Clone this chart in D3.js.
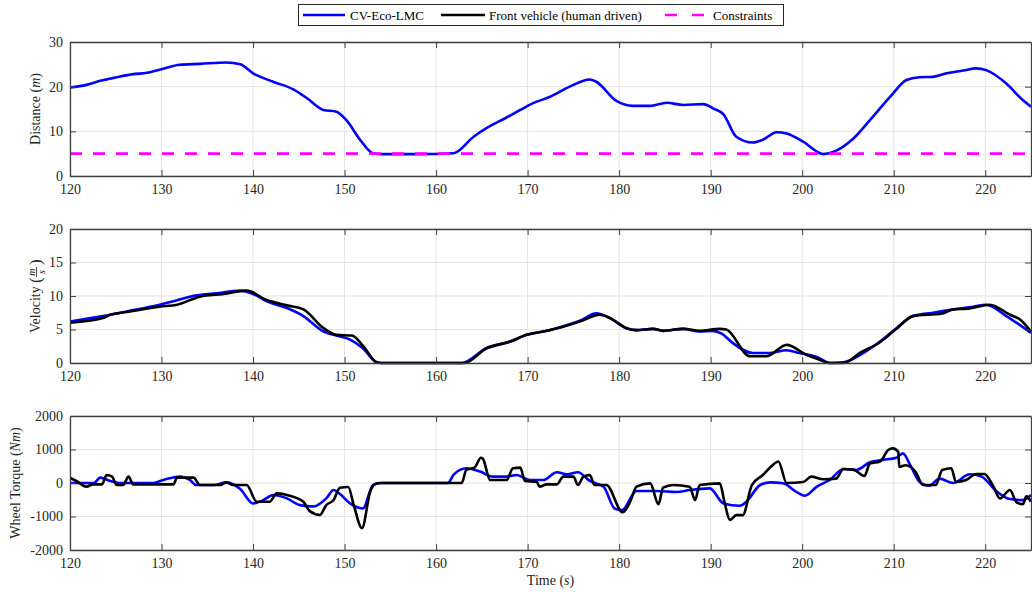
<!DOCTYPE html>
<html>
<head>
<meta charset="utf-8">
<script src="https://cdn.jsdelivr.net/npm/d3@7"></script>
<style>
    body { margin: 0; background: #fff; }
    svg { display: block; font-family: "Liberation Serif", "DejaVu Serif", serif; }
</style>
</head>
<body>
<div id="chart"></div>
<script>
"use strict";

const WIDTH = 1032;
const HEIGHT = 592;
const LEFT = 70;
const RIGHT = 1031;

const timeTicks = [120, 130, 140, 150, 160, 170, 180, 190, 200, 210, 220];
const distanceTicks = [0, 10, 20, 30];
const velocityTicks = [0, 5, 10, 15, 20];
const torqueTicks = [-2000, -1000, 0, 1000, 2000];

const legendLabels = ["CV-Eco-LMC", "Front vehicle (human driven)", "Constraints"];
const constraintDistance = 5;

// distance of the CV-Eco-LMC vehicle [t, m]
const distanceEco = [
    [120, 19.8], [121.8, 20.4], [123.3, 21.3], [125.1, 22.1], [126.9, 22.8], [128.4, 23.1],
    [130, 23.9], [132, 24.9], [134.2, 25.1], [137.1, 25.4], [138.6, 25.0], [140, 23.0],
    [142.2, 21.1], [144.4, 19.4], [145.9, 17.4], [147.7, 14.8], [149.1, 14.4], [150.2, 12.5],
    [151.7, 8.1], [153.1, 5.1], [154, 4.9], [158, 4.9], [161.9, 5.1], [164.1, 8.8],
    [165.5, 10.7], [167.7, 13.1], [169.2, 14.8], [170.6, 16.3], [172.4, 17.7], [174.6, 20.0],
    [176.8, 21.6], [177.5, 21.1], [179.7, 16.8], [181.5, 15.7], [183.4, 15.7], [185.2, 16.4],
    [187.0, 15.9], [189.2, 16.1], [190.3, 15.1], [191.4, 13.8], [192.8, 8.8], [194.6, 7.5],
    [195.7, 8.1], [197.2, 9.8], [198.3, 9.5], [200.1, 7.7], [202.3, 4.9], [203.4, 5.4],
    [205.6, 8.4], [207.4, 12.5], [209.6, 17.7], [211.4, 21.5], [212.8, 22.1], [214.3, 22.2],
    [215.8, 23.0], [217.6, 23.6], [219.0, 24.1], [220.1, 23.7], [222.3, 20.7], [224.1, 17.0],
    [225, 15.5]
];

// velocity [t, m/s]
const velocityEco = [
    [120, 6.2], [123.6, 7.0], [126.2, 7.7], [129.8, 8.7], [131.3, 9.2], [133.1, 9.9],
    [136, 10.4], [138.6, 10.8], [140, 10.3], [141.5, 9.2], [143.7, 8.2], [145.5, 7.0],
    [147.7, 4.7], [149.1, 4.1], [150.6, 3.5], [152.0, 2.2], [153.5, 0.1], [154, 0],
    [162.8, 0], [165.5, 2.2], [168.1, 3.2], [169.9, 4.2], [172.1, 4.8], [173.9, 5.5],
    [175.7, 6.3], [177.5, 7.4], [179.0, 6.7], [180.8, 5.2], [181.9, 4.9], [183.7, 5.1],
    [184.8, 4.8], [187, 5.1], [188.8, 4.7], [190.2, 4.8], [191.2, 4.4], [192.4, 3.0],
    [194.6, 1.5], [196.5, 1.5], [198.3, 1.9], [199.7, 1.5], [201.6, 0.9], [203.0, 0],
    [204.5, 0.1], [206.7, 1.5], [208.5, 3.2], [210.3, 5.2], [212.1, 7.0], [214.3, 7.5],
    [216.5, 8.0], [218.7, 8.4], [220.1, 8.7], [222.3, 7.0], [225, 4.5]
];

const velocityFront = [
    [120, 6.0], [123.6, 6.7], [124.4, 7.2], [126.2, 7.6], [129.8, 8.4], [131.7, 8.7],
    [134.2, 9.9], [136.8, 10.3], [139.3, 10.8], [141.5, 9.4], [143.7, 8.6], [145.5, 8.0],
    [147.7, 5.2], [149.1, 4.2], [150.8, 4.1], [152.0, 2.6], [153.4, 0.2], [154, 0],
    [163.1, 0], [165.5, 2.2], [168.1, 3.2], [169.9, 4.2], [172.1, 4.8], [173.9, 5.4],
    [175.7, 6.2], [177.9, 7.2], [179.0, 6.7], [180.8, 5.2], [181.9, 4.9], [183.7, 5.1],
    [184.8, 4.8], [187, 5.1], [188.8, 4.8], [191.0, 5.1], [191.7, 5.0], [194.3, 1.0],
    [196.1, 1.0], [198.3, 2.7], [200.5, 1.2], [201.9, 0.5], [203, 0], [204.5, 0],
    [206.3, 1.5], [208.5, 3.1], [210.3, 5.1], [212.1, 7.0], [215.3, 7.4], [216.5, 8.0],
    [218.1, 8.1], [220.5, 8.7], [222.7, 7.2], [223.8, 6.5], [225, 4.7]
];

// wheel torque [t, Nm]
const torqueEco = [
    [120, 0], [122.6, 0], [123.3, 160], [124.4, 60], [125.4, 0], [129.1, 0], [130.2, 90],
    [132.0, 190], [133.1, 90], [133.8, -60], [135.7, -60], [137.1, 20], [138.6, -180],
    [140.0, -610], [141.1, -510], [142.2, -360], [143.7, -460], [145.1, -660], [146.6, -700],
    [148.0, -460], [148.8, -210], [149.5, -330], [150.6, -610], [152.0, -760], [153.1, -60],
    [153.8, 0], [161.3, 0], [161.9, 240], [163.3, 440], [164.8, 340], [166.2, 190],
    [167.7, 190], [168.8, 240], [170.2, 90], [171.7, 90], [173.2, 320], [174.3, 260],
    [175.5, 320], [176.8, 60], [178.3, -110], [179.5, -760], [180.3, -810], [181.9, -240],
    [184.1, -240], [186.3, -270], [187.7, -210], [189.9, -160], [191.4, -610], [193.2, -680],
    [193.9, -560], [195.4, -60], [196.5, 20], [197.9, -10], [199.4, -270], [200.3, -380],
    [201.6, -110], [203.0, 90], [204.5, 420], [205.9, 390], [207.4, 620], [208.8, 690],
    [210.3, 755], [211.0, 885], [211.8, 540], [212.8, 40], [213.9, -80], [215.0, 130],
    [216.5, 0], [218.3, 260], [219.6, 190], [221.2, -240], [222.7, -480], [224.1, -510],
    [225, -360]
];

const torqueFront = [
    [120, 158], [120.7, 60], [121.8, -110], [122.5, -40], [123.5, -40], [124.0, 240],
    [124.6, 190], [125.1, -60], [125.8, -60], [126.4, 190], [126.9, -40], [131.3, -40],
    [131.7, 160], [133.5, 160], [134.2, -60], [136.4, -60], [137.1, 20], [137.8, -60],
    [139.3, -60], [140.4, -560], [141.8, -560], [142.6, -310], [144.0, -380], [145.5, -560],
    [146.2, -840], [147.3, -955], [148.0, -660], [148.8, -510], [149.5, -140], [150.4, -120],
    [151.0, -660], [151.9, -1350], [152.8, -260], [153.3, -40], [154, 0], [162.8, 0],
    [163.3, 390], [164.2, 460], [164.9, 755], [165.1, 730], [165.9, 90], [167.7, 90],
    [168.4, 440], [169.2, 460], [169.7, 60], [171.0, 30], [171.3, -110], [172.1, -40],
    [173.2, -40], [173.9, 190], [175.0, 190], [175.5, -60], [176.1, 190], [176.8, 240],
    [177.3, -60], [178.6, -60], [180.4, -875], [181.2, -560], [181.9, -110], [183.4, -10],
    [184.3, -635], [184.8, -140], [185.9, -60], [187.7, -110], [188.3, -510], [188.8, -60],
    [191.0, -10], [191.5, -560], [192.1, -1100], [192.8, -960], [193.5, -960], [194.5, -60],
    [195.7, 240], [196.6, 490], [197.4, 640], [198.3, 0], [200.1, 30], [201.0, 190],
    [202.3, 110], [203.7, 130], [204.5, 420], [205.6, 400], [206.8, 210], [207.4, 580],
    [208.5, 640], [209.4, 985], [209.9, 1035], [210.5, 930], [210.6, 480], [211.3, 530],
    [212.4, 330], [213.2, -60], [214.6, -60], [215.3, 390], [216.3, 440], [216.8, 30],
    [217.9, 90], [219.0, 270], [219.9, 270], [220.9, -110], [221.6, -460], [222.7, -210],
    [223.4, -570], [224.1, -635], [224.5, -400], [225, -560]
];

const COLORS = { eco: "#0000ff", front: "#000000", constraint: "#ff00ff" };

const svg = d3.select("#chart")
    .append("svg")
    .attr("width", WIDTH)
    .attr("height", HEIGHT);

const x = d3.scaleLinear().domain([120, 225]).range([LEFT, RIGHT]);

function renderPanel(top, bottom, domain, yTicks) {
    const y = d3.scaleLinear().domain(domain).range([bottom, top]);
    const g = svg.append("g");

    // grid
    g.selectAll(".gx").data(timeTicks).enter().append("line")
        .attr("x1", d => x(d)).attr("x2", d => x(d))
        .attr("y1", top).attr("y2", bottom)
        .attr("stroke", "#e3e3e3");
    g.selectAll(".gy").data(yTicks).enter().append("line")
        .attr("x1", LEFT).attr("x2", RIGHT)
        .attr("y1", d => y(d)).attr("y2", d => y(d))
        .attr("stroke", "#e3e3e3");

    const clip = "clip" + top;
    svg.append("clipPath").attr("id", clip)
        .append("rect")
        .attr("x", LEFT).attr("y", top - 2)
        .attr("width", RIGHT - LEFT).attr("height", bottom - top + 4);

    const lines = svg.append("g").attr("clip-path", `url(#${clip})`);
    return { g, y, lines, top, bottom, yTicks };
}

function finishPanel(panel) {
    const { y, top, bottom, yTicks } = panel;
    const axes = svg.append("g").attr("color", "#262626");

    axes.append("g")
        .attr("transform", `translate(0,${bottom})`)
        .call(d3.axisBottom(x).tickValues(timeTicks).tickSizeInner(-6).tickSizeOuter(0).tickPadding(8));
    axes.append("g")
        .attr("transform", `translate(0,${top})`)
        .call(d3.axisTop(x).tickValues(timeTicks).tickSizeInner(-6).tickSizeOuter(0).tickFormat(""));
    axes.append("g")
        .attr("transform", `translate(${LEFT},0)`)
        .call(d3.axisLeft(y).tickValues(yTicks).tickFormat(d => String(d))
            .tickSizeInner(-6).tickSizeOuter(0).tickPadding(7));
    axes.append("g")
        .attr("transform", `translate(${RIGHT},0)`)
        .call(d3.axisRight(y).tickValues(yTicks).tickSizeInner(-6).tickSizeOuter(0).tickFormat(""));

    axes.selectAll(".domain").attr("stroke", "#404040").attr("stroke-width", 1.3);
    axes.selectAll(".tick line").attr("stroke", "#404040");
    axes.selectAll("text")
        .attr("font-family", "Liberation Serif, serif")
        .attr("font-size", 14)
        .attr("fill", "#262626");
}

function drawLine(panel, data, color, dashed) {
    const line = d3.line()
        .x(d => x(d[0]))
        .y(d => panel.y(d[1]))
        .curve(d3.curveMonotoneX);
    panel.lines.append("path")
        .datum(data)
        .attr("d", line)
        .attr("fill", "none")
        .attr("stroke", color)
        .attr("stroke-width", 2.6)
        .attr("stroke-linejoin", "round")
        .attr("stroke-dasharray", dashed ? "12,11" : null);
}

// Distance panel
const p1 = renderPanel(42, 176, [0, 30], distanceTicks);
drawLine(p1, distanceEco, COLORS.eco);
drawLine(p1, [[120, constraintDistance], [225, constraintDistance]], COLORS.constraint, true);
finishPanel(p1);

// Velocity panel
const p2 = renderPanel(229, 363, [0, 20], velocityTicks);
drawLine(p2, velocityEco, COLORS.eco);
drawLine(p2, velocityFront, COLORS.front);
finishPanel(p2);

// Torque panel
const p3 = renderPanel(416, 550, [-2000, 2000], torqueTicks);
drawLine(p3, torqueEco, COLORS.eco);
drawLine(p3, torqueFront, COLORS.front);
finishPanel(p3);

// y labels
const dLabel = svg.append("text")
    .attr("transform", `translate(40,${(42 + 176) / 2}) rotate(-90)`)
    .attr("text-anchor", "middle")
    .attr("font-size", 14)
    .attr("fill", "#262626");
dLabel.append("tspan").text("Distance (");
dLabel.append("tspan").attr("font-style", "italic").text("m");
dLabel.append("tspan").text(")");

const vLabel = svg.append("g")
    .attr("transform", `translate(40,${(229 + 363) / 2}) rotate(-90)`)
    .attr("fill", "#262626")
    .attr("font-size", 14);
vLabel.append("text").attr("x", -37).text("Velocity");
vLabel.append("text").attr("x", 13).attr("y", 1).attr("font-size", 17).text("(");
vLabel.append("text").attr("x", 24).attr("y", -5).attr("font-size", 10)
    .attr("font-style", "italic").attr("text-anchor", "middle").text("m");
vLabel.append("line").attr("x1", 19).attr("x2", 29).attr("y1", -3.5).attr("y2", -3.5)
    .attr("stroke", "#262626").attr("stroke-width", 0.8);
vLabel.append("text").attr("x", 24).attr("y", 5).attr("font-size", 10)
    .attr("font-style", "italic").attr("text-anchor", "middle").text("s");
vLabel.append("text").attr("x", 31).attr("y", 1).attr("font-size", 17).text(")");

const tLabel = svg.append("text")
    .attr("transform", `translate(20,${(416 + 550) / 2}) rotate(-90)`)
    .attr("text-anchor", "middle")
    .attr("font-size", 14)
    .attr("fill", "#262626");
tLabel.append("tspan").text("Wheel Torque (");
tLabel.append("tspan").attr("font-style", "italic").text("Nm");
tLabel.append("tspan").text(")");

const xLabel = svg.append("text")
    .attr("x", x(172.5))
    .attr("y", 585)
    .attr("text-anchor", "middle")
    .attr("font-size", 14)
    .attr("fill", "#262626");
xLabel.append("tspan").text("Time (");
xLabel.append("tspan").attr("font-style", "italic").text("s");
xLabel.append("tspan").text(")");

// Legend
const legend = svg.append("g").attr("font-size", 13);
legend.append("rect")
    .attr("x", 298.5).attr("y", 4.5)
    .attr("width", 485).attr("height", 21)
    .attr("fill", "#fff").attr("stroke", "#262626");

const legendItems = [
    { label: legendLabels[0], color: COLORS.eco, x1: 303, x2: 345, tx: 350 },
    { label: legendLabels[1], color: COLORS.front, x1: 441, x2: 485, tx: 489 },
    { label: legendLabels[2], color: COLORS.constraint, x1: 665, x2: 704, tx: 713, dashed: true }
];

legendItems.forEach(item => {
    legend.append("line")
        .attr("x1", item.x1).attr("x2", item.x2)
        .attr("y1", 15).attr("y2", 15)
        .attr("stroke", item.color)
        .attr("stroke-width", 2.6)
        .attr("stroke-dasharray", item.dashed ? "12,15" : null);
    legend.append("text")
        .attr("x", item.tx).attr("y", 19.5)
        .attr("fill", "#000")
        .text(item.label);
});
</script>
</body>
</html>
